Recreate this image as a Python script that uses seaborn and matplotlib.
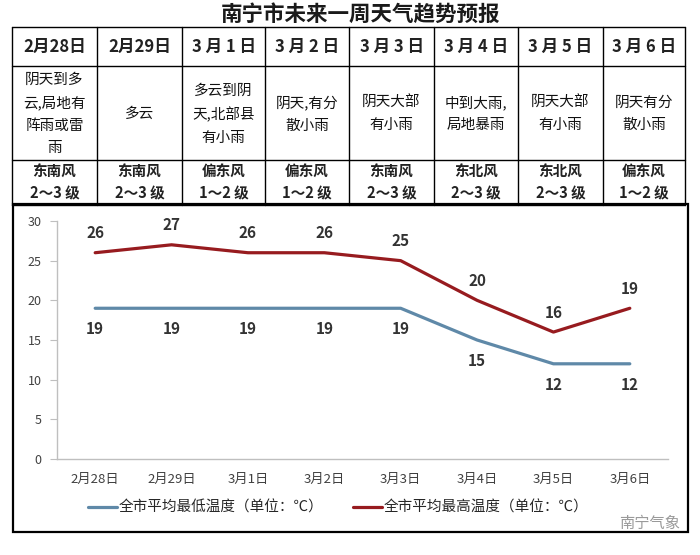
"""Nanning weekly weather outlook: table + temperature trend chart."""

import numpy as np
import pandas as pd
import matplotlib
matplotlib.use("Agg")
import matplotlib.pyplot as plt
from matplotlib.lines import Line2D
from matplotlib.patches import Rectangle
import seaborn as sns

# data
title = "南宁市未来一周天气趋势预报"
header_dates = ["2月28日", "2月29日", "3 月 1 日", "3 月 2 日", "3 月 3 日",
                "3 月 4 日", "3 月 5 日", "3 月 6 日"]
weather = [
    "阴天到多\n云,局地有\n阵雨或雷\n雨",
    "多云",
    "多云到阴\n天,北部县\n有小雨",
    "阴天,有分\n散小雨",
    "阴天大部\n有小雨",
    "中到大雨,\n局地暴雨",
    "阴天大部\n有小雨",
    "阴天有分\n散小雨",
]
wind = ["东南风\n2～3 级", "东南风\n2～3 级", "偏东风\n1～2 级", "偏东风\n1～2 级",
        "东南风\n2～3 级", "东北风\n2～3 级", "东北风\n2～3 级", "偏东风\n1～2 级"]
dates = ["2月28日", "2月29日", "3月1日", "3月2日", "3月3日", "3月4日", "3月5日", "3月6日"]
low_temp = [19, 19, 19, 19, 19, 15, 12, 12]
high_temp = [26, 27, 26, 26, 25, 20, 16, 19]
low_name = "全市平均最低温度（单位：℃）"
high_name = "全市平均最高温度（单位：℃）"
watermark = "南宁气象"

# styles
c_low = "#5f89a8"
c_high = "#971b1f"
gray = "#bfbfbf"

sns.set_style("white")
plt.rcParams["font.family"] = ["Noto Sans CJK SC", "DejaVu Sans"]

fig = plt.figure(figsize=(7, 5.55), dpi=100)

# background axes in pixel coordinates for the table and frame
bg = fig.add_axes([0, 0, 1, 1])
bg.set_xlim(0, 700)
bg.set_ylim(555, 0)
bg.axis("off")

bg.text(361, 14, title, ha="center", va="center", fontsize=15.5, fontweight="bold", color="#1a1a1a")

col_edges = [12, 97, 182, 265, 349, 434, 518, 603, 685]
row_edges = [27, 66, 160, 205]
for x in col_edges:
    bg.plot([x, x], [row_edges[0], row_edges[-1]], color="black", lw=1.0)
for y in row_edges:
    bg.plot([col_edges[0], col_edges[-1]], [y, y], color="black", lw=1.0)

for i in range(8):
    cx = (col_edges[i] + col_edges[i + 1]) / 2
    bg.text(cx, (row_edges[0] + row_edges[1]) / 2, header_dates[i], ha="center", va="center",
            fontsize=12, fontweight="bold", color="#222222")
    bg.text(cx, (row_edges[1] + row_edges[2]) / 2 + 1, weather[i], ha="center", va="center",
            fontsize=10.5, linespacing=1.75, color="#111111")
    bg.text(cx, (row_edges[2] + row_edges[3]) / 2, wind[i], ha="center", va="center",
            fontsize=10.5, linespacing=1.45, fontweight="bold", color="#222222")

# chart frame
bg.add_patch(Rectangle((13, 204), 675, 328, fill=False, edgecolor="black", lw=1.6))
bg.text(680, 523, watermark, ha="right", va="center", fontsize=11, color="#9a9a9a")

# chart
ax = fig.add_axes([57 / 700, 96 / 555, 611 / 700, 238 / 555])
ax.patch.set_alpha(0)

df = pd.DataFrame({
    "date": dates * 2,
    "temp": low_temp + high_temp,
    "kind": [low_name] * len(dates) + [high_name] * len(dates),
})
sns.lineplot(data=df, x="date", y="temp", hue="kind", palette=[c_low, c_high],
             lw=2.3, sort=False, legend=False, ax=ax)

for i, v in enumerate(low_temp):
    ax.annotate(str(v), (i, v), xytext=(0, -15), textcoords="offset points",
                ha="center", va="center", fontsize=11, fontweight="bold", color="#333333")
for i, v in enumerate(high_temp):
    ax.annotate(str(v), (i, v), xytext=(0, 14), textcoords="offset points",
                ha="center", va="center", fontsize=11, fontweight="bold", color="#333333")

ax.set_xlim(-0.5, len(dates) - 0.5)
ax.set_ylim(0, 30)
ax.set_yticks(range(0, 31, 5))
ax.set_xticks(range(len(dates)))
ax.set_xticklabels(dates)
ax.set_xticks(np.arange(-0.5, len(dates), 1), minor=True)
ax.set_xlabel("")
ax.set_ylabel("")
ax.grid(False)

for side in ["top", "right"]:
    ax.spines[side].set_visible(False)
for side in ["left", "bottom"]:
    ax.spines[side].set_color(gray)
    ax.spines[side].set_linewidth(1.0)

ax.tick_params(axis="x", which="major", length=0, pad=10, labelsize=9.5, labelcolor="#404040")
ax.tick_params(axis="x", which="minor", length=5, color=gray, direction="out")
ax.tick_params(axis="y", length=5, color=gray, pad=6, labelsize=9, labelcolor="#404040", left=True)

handles = [Line2D([0], [0], color=c_low, lw=2.3), Line2D([0], [0], color=c_high, lw=2.3)]
fig.legend(handles, [low_name, high_name], loc="center",
           bbox_to_anchor=(338 / 700, 1 - 508 / 555), ncol=2, frameon=False,
           fontsize=10.5, handlelength=2.0, handletextpad=0.1, columnspacing=2.0)

fig.savefig("out.png", dpi=100)
plt.close()
